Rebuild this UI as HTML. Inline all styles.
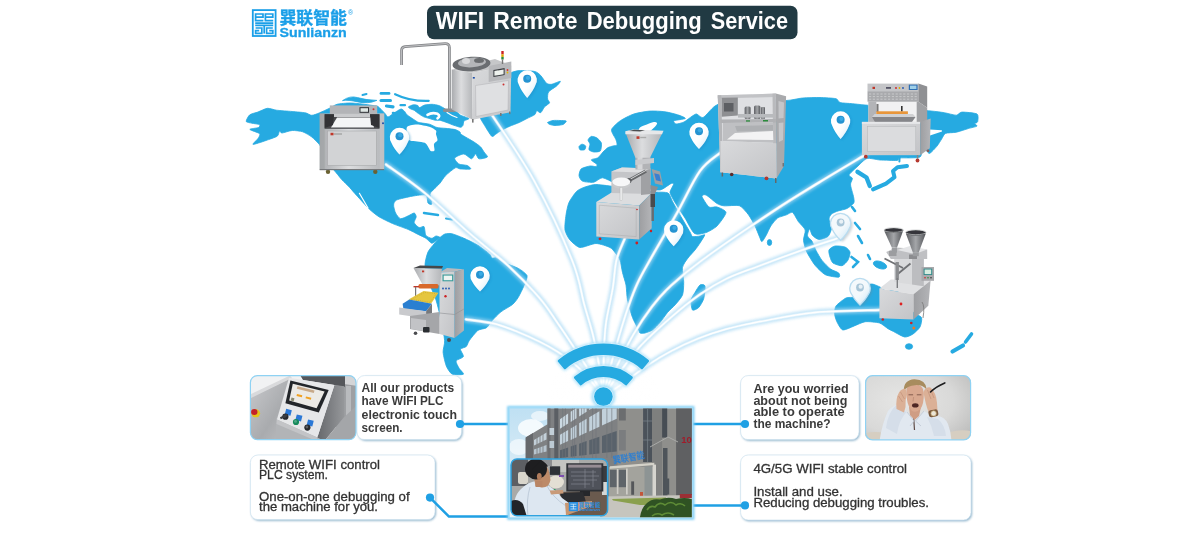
<!DOCTYPE html>
<html lang="en"><head><meta charset="utf-8"><title>WIFI Remote Debugging Service</title>
<style>html,body{margin:0;padding:0;background:#fff}body{width:1200px;height:536px;overflow:hidden}svg{display:block}</style></head><body>
<svg width="1200" height="536" viewBox="0 0 1200 536">
<defs>
<filter id="blur05" x="-5%" y="-5%" width="110%" height="110%"><feGaussianBlur stdDeviation="0.6"/></filter>
<filter id="blur12" x="-10%" y="-20%" width="120%" height="140%"><feGaussianBlur stdDeviation="1.3"/></filter>
<filter id="blur1" x="-20%" y="-20%" width="140%" height="140%"><feGaussianBlur stdDeviation="1"/></filter>
<filter id="blur2" x="-10%" y="-20%" width="120%" height="140%"><feGaussianBlur stdDeviation="1.8"/></filter>
<filter id="soft" x="-2%" y="-2%" width="104%" height="104%"><feGaussianBlur stdDeviation="0.45"/></filter>
<radialGradient id="gHubFade" cx="0.5" cy="0.5" r="0.5"><stop offset="0" stop-color="#ffffff" stop-opacity="0.75"/><stop offset="0.6" stop-color="#ffffff" stop-opacity="0.5"/><stop offset="1" stop-color="#ffffff" stop-opacity="0"/></radialGradient>
<linearGradient id="gPin" x1="0" x2="1" y1="0" y2="1"><stop offset="0.45" stop-color="#ffffff" stop-opacity="0"/><stop offset="1" stop-color="#7fc4ea"/></linearGradient>

<linearGradient id="gH" x1="0" x2="1" y1="0" y2="0"><stop offset="0" stop-color="#a9abae"/><stop offset="0.45" stop-color="#dcdddf"/><stop offset="1" stop-color="#b4b6b9"/></linearGradient>
<linearGradient id="gF" x1="0" x2="1" y1="0" y2="1"><stop offset="0" stop-color="#d9dadc"/><stop offset="1" stop-color="#c3c4c7"/></linearGradient>
<linearGradient id="gS" x1="0" x2="1" y1="0" y2="0"><stop offset="0" stop-color="#9d9ea1"/><stop offset="1" stop-color="#b4b5b8"/></linearGradient>
<linearGradient id="gD" x1="0" x2="1" y1="0" y2="0"><stop offset="0" stop-color="#5e6064"/><stop offset="0.5" stop-color="#a4a6a9"/><stop offset="1" stop-color="#55575b"/></linearGradient>

<clipPath id="cpT"><rect x="250.4" y="375.6" width="105.6" height="64" rx="7"/></clipPath>
<clipPath id="cpM"><rect x="865" y="375.6" width="106" height="64.4" rx="7"/></clipPath>
<clipPath id="cpC"><rect x="509.8" y="408.4" width="182" height="108.8"/></clipPath>
<clipPath id="cpI"><rect x="511" y="458.8" width="97" height="57" rx="6"/></clipPath>
<linearGradient id="gTouchCab" x1="0" x2="1" y1="0" y2="1"><stop offset="0" stop-color="#c9cacd"/><stop offset="0.6" stop-color="#a9abae"/><stop offset="1" stop-color="#bfc0c3"/></linearGradient>
<linearGradient id="gTouchSide" x1="0" x2="1" y1="0" y2="0"><stop offset="0" stop-color="#66686c"/><stop offset="1" stop-color="#96989b"/></linearGradient>
<linearGradient id="gTouchBg" x1="0" x2="1" y1="0" y2="1"><stop offset="0" stop-color="#e3e4e6"/><stop offset="0.5" stop-color="#b9bbbe"/><stop offset="1" stop-color="#d5d6d8"/></linearGradient>
<linearGradient id="gSky" x1="0" x2="0" y1="0" y2="1"><stop offset="0" stop-color="#bfe0f3"/><stop offset="1" stop-color="#eef5f8"/></linearGradient>
<radialGradient id="gManBg" cx="0.35" cy="0.4" r="0.8"><stop offset="0" stop-color="#e6e6e5"/><stop offset="0.6" stop-color="#d9d9d8"/><stop offset="1" stop-color="#bcbcbb"/></radialGradient>
</defs>
<rect width="1200" height="536" fill="#fff"/>
<g opacity="0.999">
<g filter="url(#soft)">
<g fill="#26aae1" stroke="#26aae1" stroke-width="0.8" stroke-linejoin="round">
<path d="M246.2,121.5 C245.9,120.5 248.4,115.9 249.8,114.8 C251.2,113.7 255.9,112.8 258.0,112.0 C260.1,111.2 265.2,108.5 267.4,108.3 C269.6,108.1 273.7,109.8 276.6,110.2 C279.5,110.6 288.9,111.2 292.2,111.5 C295.5,111.8 303.0,112.4 305.3,112.8 C307.6,113.2 310.1,115.3 311.8,115.3 C313.5,115.3 317.5,113.7 319.6,112.8 C321.7,111.9 328.0,109.0 330.0,108.0 C332.0,107.0 334.7,104.9 337.0,104.3 C339.3,103.7 347.1,103.0 350.0,103.0 C352.9,103.0 359.3,103.7 362.0,104.0 C364.7,104.3 371.1,105.2 373.0,105.5 C374.9,105.8 376.6,105.6 378.0,106.5 C379.4,107.4 383.8,112.3 385.0,113.5 C386.2,114.7 386.9,117.1 388.0,117.0 C389.1,116.9 392.5,113.9 394.0,113.0 C395.5,112.1 399.8,109.2 401.0,109.0 C402.2,108.8 403.8,110.6 404.5,111.3 C405.2,112.0 405.9,113.9 407.2,115.0 C408.5,116.1 414.1,119.7 415.5,120.6 C416.9,121.5 417.4,122.2 419.0,122.6 C420.6,123.0 427.4,123.6 429.5,124.2 C431.6,124.8 435.2,127.0 437.0,127.5 C438.8,128.0 442.9,128.1 445.0,128.3 C447.1,128.5 453.2,129.1 455.0,129.5 C456.8,129.9 459.3,131.4 460.0,132.0 C460.7,132.6 459.8,133.3 461.4,134.5 C463.0,135.7 471.7,140.5 474.0,142.0 C476.3,143.5 479.5,145.8 480.7,147.0 C481.9,148.2 483.2,150.8 484.0,152.0 C484.8,153.2 488.0,156.2 487.4,157.0 C486.8,157.8 480.4,159.2 479.0,158.8 C477.6,158.5 476.5,154.0 475.6,154.0 C474.7,154.0 472.9,158.8 471.5,158.8 C470.1,158.8 465.9,154.1 463.9,154.0 C461.9,153.9 455.3,156.8 454.7,158.0 C454.1,159.2 457.4,163.1 458.9,164.0 C460.4,164.9 465.8,164.9 467.2,165.5 C468.6,166.1 471.4,168.6 470.6,169.0 C469.8,169.4 462.3,169.1 460.5,169.0 C458.7,168.9 457.1,167.0 455.3,167.8 C453.6,168.6 447.3,173.9 445.5,175.7 C443.7,177.5 441.1,181.9 439.7,183.5 C438.3,185.1 434.9,188.2 433.8,189.4 C432.7,190.6 430.2,192.3 430.0,194.0 C429.8,195.7 432.0,202.9 431.8,204.0 C431.6,205.1 428.7,204.1 428.0,203.0 C427.3,201.9 427.7,195.8 425.9,195.0 C424.1,194.2 415.6,195.6 412.2,196.2 C408.8,196.8 398.8,199.0 396.6,200.0 C394.4,201.0 393.7,203.5 393.6,205.0 C393.5,206.5 394.8,211.4 395.6,213.0 C396.4,214.6 399.0,218.4 400.5,218.7 C402.0,219.0 406.7,216.5 408.3,215.8 C409.9,215.1 413.3,212.9 414.2,213.0 C415.1,213.1 416.2,215.7 416.2,216.8 C416.2,217.9 413.9,221.4 414.2,222.7 C414.5,224.0 418.0,227.1 419.1,227.6 C420.2,228.1 423.2,225.7 424.0,226.6 C424.8,227.5 425.0,234.0 425.9,235.4 C426.8,236.8 430.6,238.2 431.8,238.3 C433.0,238.4 435.0,236.1 436.0,236.0 C437.0,235.9 439.9,237.0 440.0,237.5 C440.1,238.0 437.7,239.6 436.7,240.3 C435.7,241.0 433.1,243.4 431.8,243.2 C430.5,243.0 427.5,239.3 425.9,238.3 C424.3,237.3 420.2,235.4 418.1,234.4 C416.0,233.4 411.3,230.8 408.3,229.5 C405.3,228.2 396.1,225.1 392.7,223.6 C389.3,222.1 381.7,218.5 379.0,216.8 C376.3,215.1 371.8,211.5 369.2,209.0 C366.6,206.5 358.7,197.7 356.4,195.2 C354.1,192.7 351.3,189.2 349.6,187.4 C347.9,185.6 343.1,181.1 341.7,179.6 C340.3,178.1 339.2,176.4 337.8,174.7 C336.4,173.0 331.7,167.6 330.0,165.0 C328.3,162.4 324.2,154.4 323.0,152.0 C321.8,149.6 320.9,146.6 319.6,144.8 C318.3,143.1 313.8,138.5 311.8,137.0 C309.8,135.5 305.0,132.6 302.7,131.8 C300.4,131.0 294.6,130.4 292.2,130.5 C289.8,130.6 283.5,132.9 282.0,133.0 C280.5,133.1 280.1,130.6 279.5,131.0 C278.9,131.4 278.8,135.1 277.2,136.2 C275.6,137.3 268.8,139.5 266.0,140.5 C263.2,141.5 253.9,144.6 253.0,144.4 C252.1,144.2 257.2,139.7 258.0,138.5 C258.8,137.3 260.6,134.8 259.6,133.7 C258.6,132.6 249.9,130.1 249.8,129.4 C249.7,128.7 257.4,128.1 258.5,127.5 C259.6,126.9 260.4,125.1 259.6,124.6 C258.8,124.1 253.6,123.6 252.0,123.2 C250.4,122.8 246.5,122.5 246.2,121.5Z"/>
<path d="M408.5,106.8 C408.9,106.3 412.5,104.9 413.6,104.7 C414.7,104.5 417.1,105.2 417.8,105.5 C418.5,105.8 418.7,107.6 419.5,107.6 C420.3,107.6 423.0,105.5 424.5,105.1 C426.0,104.7 430.3,104.3 432.0,104.3 C433.7,104.3 437.4,105.1 438.8,105.5 C440.2,105.9 442.8,107.5 443.8,108.0 C444.8,108.5 445.8,109.9 447.2,110.2 C448.6,110.5 454.0,110.4 455.6,111.0 C457.2,111.6 459.0,114.3 460.6,115.2 C462.2,116.1 468.6,117.8 469.0,118.5 C469.4,119.2 464.7,120.2 464.0,121.0 C463.3,121.8 463.4,124.6 463.0,125.3 C462.6,126.0 461.7,127.3 460.6,127.3 C459.5,127.3 455.5,125.8 453.9,125.3 C452.3,124.8 448.8,123.3 447.2,122.7 C445.6,122.1 441.9,120.7 440.5,120.4 C439.1,120.1 436.6,120.5 435.4,120.3 C434.2,120.1 431.8,119.2 430.4,118.8 C429.0,118.4 425.1,117.4 423.7,116.8 C422.3,116.2 419.6,114.3 418.5,113.6 C417.4,112.9 415.5,111.1 414.5,110.5 C413.5,109.9 410.7,109.0 410.0,108.6 C409.3,108.2 408.1,107.3 408.5,106.8Z"/>
<path d="M483.0,113.0 C482.5,115.0 479.9,115.7 480.0,117.0 C480.1,118.3 482.6,122.3 484.0,124.5 C485.4,126.7 490.3,135.1 491.7,136.2 C493.1,137.3 494.6,134.9 495.7,134.2 C496.8,133.5 499.9,131.2 501.5,130.3 C503.1,129.4 507.3,127.3 509.4,126.4 C511.5,125.5 517.1,123.4 519.2,122.5 C521.3,121.6 525.2,119.4 527.0,118.5 C528.8,117.6 533.7,115.5 534.8,114.6 C535.9,113.7 536.1,110.9 536.8,110.7 C537.5,110.5 539.8,113.2 540.7,112.7 C541.6,112.2 543.6,107.9 544.6,106.8 C545.6,105.7 549.1,103.8 549.5,102.9 C549.9,102.0 547.7,100.3 547.6,99.0 C547.5,97.7 547.5,93.5 548.5,92.0 C549.5,90.5 555.0,87.4 556.4,86.2 C557.8,85.0 560.9,81.5 560.3,81.3 C559.7,81.1 553.1,84.1 551.5,84.3 C549.9,84.5 547.9,84.3 546.6,83.3 C545.3,82.3 542.1,76.9 540.7,75.5 C539.3,74.1 537.3,72.1 534.8,71.5 C532.3,70.9 521.9,70.5 519.2,70.6 C516.5,70.7 513.5,71.9 511.3,72.5 C509.1,73.1 502.5,74.5 500.0,76.0 C497.5,77.5 491.9,82.2 490.0,85.0 C488.1,87.8 484.8,96.7 484.0,100.0 C483.2,103.3 483.5,111.0 483.0,113.0Z"/>
<path d="M547.6,122.5 C548.0,122.0 551.6,120.7 553.0,120.5 C554.4,120.3 558.5,120.4 560.0,120.5 C561.5,120.6 565.9,120.5 566.2,121.0 C566.6,121.5 564.3,124.0 563.0,124.5 C561.7,125.0 556.5,125.5 555.0,125.5 C553.5,125.5 550.9,124.8 550.0,124.5 C549.1,124.2 547.2,123.0 547.6,122.5Z"/>
<path d="M440.0,237.5 C441.3,236.3 443.6,234.4 445.0,234.0 C446.4,233.6 449.7,233.2 451.8,233.7 C453.9,234.2 460.4,236.7 463.4,238.0 C466.4,239.3 474.8,243.3 477.8,245.2 C480.8,247.1 487.7,252.4 489.4,253.9 C491.1,255.4 491.2,257.5 492.0,258.0 C492.8,258.5 494.6,257.5 496.0,258.0 C497.4,258.5 501.3,261.4 503.9,262.6 C506.5,263.8 515.6,266.9 518.3,268.4 C521.0,269.9 526.3,273.6 527.0,275.6 C527.7,277.6 525.0,283.2 524.0,285.7 C523.0,288.2 519.6,295.1 518.3,297.3 C517.0,299.5 514.5,302.8 512.5,304.5 C510.5,306.2 503.4,309.9 501.0,311.8 C498.6,313.7 494.0,318.5 492.3,320.4 C490.6,322.3 488.2,326.5 486.5,327.7 C484.8,328.9 479.8,329.0 477.8,330.5 C475.8,332.0 470.5,338.8 469.2,340.7 C467.9,342.6 467.3,345.5 466.3,346.5 C465.3,347.5 460.8,348.1 460.5,349.3 C460.2,350.5 463.9,355.2 463.4,356.6 C462.9,358.0 456.6,359.6 456.1,360.9 C455.6,362.2 458.1,366.5 459.0,368.1 C459.9,369.7 464.2,373.5 463.4,374.2 C462.6,374.9 454.0,375.0 452.0,374.0 C450.0,373.0 447.3,368.5 446.3,366.0 C445.3,363.5 443.3,355.2 443.1,352.2 C442.9,349.2 444.8,344.5 444.6,340.7 C444.4,336.9 442.0,324.7 441.0,320.0 C440.0,315.3 437.5,304.7 436.0,300.0 C434.5,295.3 429.3,284.1 428.0,280.0 C426.7,275.9 425.0,268.3 425.0,265.0 C425.0,261.7 426.9,254.4 428.0,252.0 C429.1,249.6 432.6,245.7 434.0,244.0 C435.4,242.3 438.7,238.7 440.0,237.5Z"/>
<path d="M576.8,191.2 C578.7,189.4 582.8,187.8 585.0,187.0 C587.2,186.2 592.9,184.6 595.8,184.5 C598.7,184.4 606.6,185.6 610.0,186.0 C613.4,186.4 621.5,187.5 625.0,188.0 C628.5,188.5 636.5,189.5 640.0,190.0 C643.5,190.5 651.7,191.7 655.0,192.0 C658.3,192.3 666.0,191.9 668.0,193.0 C670.0,194.1 671.0,198.7 672.4,201.3 C673.8,203.9 677.9,211.4 680.0,215.0 C682.1,218.6 688.5,229.5 690.0,232.0 C691.5,234.5 691.3,236.0 692.5,236.5 C693.7,237.0 698.6,236.2 700.0,236.0 C701.4,235.8 704.8,234.1 704.8,234.9 C704.8,235.7 701.1,241.2 700.0,243.0 C698.9,244.8 696.4,248.2 695.0,250.0 C693.6,251.8 689.5,256.0 688.0,258.0 C686.5,260.0 683.0,264.6 682.5,267.5 C682.0,270.4 683.7,279.3 683.7,282.5 C683.7,285.7 683.5,292.4 682.5,295.0 C681.5,297.6 676.8,303.0 675.0,305.0 C673.2,307.0 669.2,310.5 667.5,312.5 C665.8,314.5 661.8,320.5 660.0,322.5 C658.2,324.5 654.2,328.8 652.5,330.0 C650.8,331.2 646.5,332.6 645.0,333.0 C643.5,333.4 640.7,333.4 640.0,333.0 C639.3,332.6 639.6,331.8 638.7,330.0 C637.8,328.2 633.8,321.0 632.5,317.5 C631.2,314.0 628.3,303.8 627.5,300.0 C626.7,296.2 626.6,288.2 626.0,285.0 C625.4,281.8 623.2,275.4 622.5,272.5 C621.8,269.6 620.9,262.3 620.0,260.0 C619.1,257.7 616.2,254.0 615.0,252.5 C613.8,251.0 612.2,248.6 610.0,247.5 C607.8,246.4 599.5,243.5 596.0,243.5 C592.5,243.5 583.0,247.9 580.0,247.5 C577.0,247.1 571.8,242.0 570.0,240.0 C568.2,238.0 565.5,232.9 565.0,230.0 C564.5,227.1 565.5,218.2 566.0,215.0 C566.5,211.8 567.7,205.2 569.0,202.4 C570.3,199.6 574.9,193.0 576.8,191.2Z"/>
<path d="M700.0,285.0 C701.2,284.2 704.6,284.4 705.0,286.0 C705.4,287.6 704.4,296.2 703.7,298.7 C703.0,301.2 700.0,306.2 698.7,307.5 C697.4,308.8 693.4,310.9 692.5,310.0 C691.6,309.1 690.7,302.0 691.0,300.0 C691.3,298.0 694.0,294.2 695.0,292.5 C696.0,290.8 698.8,285.8 700.0,285.0Z"/>
<path d="M579.0,175.6 C578.9,174.2 580.0,169.9 581.3,168.8 C582.6,167.7 588.3,166.3 590.0,166.0 C591.7,165.7 595.0,166.8 595.8,166.6 C596.6,166.4 597.5,165.2 597.0,164.4 C596.5,163.6 591.2,160.7 591.3,159.9 C591.4,159.1 596.6,158.6 598.0,157.7 C599.4,156.8 601.8,153.2 603.0,152.0 C604.2,150.8 606.8,148.3 608.0,147.6 C609.2,146.9 612.0,146.3 613.0,146.0 C614.0,145.7 616.6,145.7 617.0,145.0 C617.4,144.3 616.6,141.6 616.0,139.8 C615.4,138.0 611.0,131.9 611.5,129.7 C612.0,127.5 617.8,122.5 620.4,120.7 C623.0,118.9 630.4,115.1 633.8,114.0 C637.2,112.9 645.8,111.4 649.5,111.1 C653.2,110.8 661.8,111.3 665.2,111.8 C668.6,112.3 676.3,114.3 678.6,115.1 C680.9,115.9 685.8,117.8 685.3,118.5 C684.8,119.2 675.1,120.1 674.0,120.7 C672.9,121.3 674.8,123.8 676.0,124.0 C677.2,124.2 682.1,122.9 684.0,122.0 C685.9,121.1 690.5,117.2 692.0,116.3 C693.5,115.4 695.2,113.9 696.5,114.0 C697.8,114.1 701.0,118.3 703.2,117.4 C705.4,116.5 711.9,108.0 715.0,106.0 C718.1,104.0 724.8,100.9 730.0,100.0 C735.2,99.1 753.5,97.9 760.0,98.0 C766.5,98.1 781.0,100.5 786.0,100.5 C791.0,100.5 798.5,98.3 802.5,98.0 C806.5,97.7 816.1,97.4 820.0,97.5 C823.9,97.6 833.7,98.1 836.0,98.7 C838.3,99.3 838.1,101.9 840.0,102.5 C841.9,103.1 849.6,103.4 852.5,103.7 C855.4,104.0 859.5,104.5 865.0,105.0 C870.5,105.5 892.3,107.3 900.0,108.0 C907.7,108.7 925.8,110.5 931.0,111.0 C936.2,111.5 941.3,112.2 944.3,112.7 C947.3,113.2 954.3,115.3 956.4,115.2 C958.5,115.1 959.5,112.2 961.9,112.1 C964.3,112.0 975.2,112.9 977.0,114.0 C978.8,115.1 977.9,120.7 977.6,121.8 C977.3,122.9 974.7,123.2 974.6,123.7 C974.5,124.2 977.7,125.5 977.0,126.1 C976.3,126.7 970.9,127.8 968.5,128.5 C966.1,129.2 959.1,131.6 956.4,132.2 C953.7,132.8 947.2,132.6 945.5,133.4 C943.8,134.2 942.8,137.3 941.8,138.8 C940.8,140.3 938.4,144.4 937.0,146.1 C935.6,147.8 931.0,152.9 929.7,153.4 C928.4,153.9 926.9,150.9 926.0,150.0 C925.1,149.1 922.7,145.2 922.0,146.0 C921.3,146.8 922.6,155.6 920.0,157.0 C917.4,158.4 902.7,157.6 900.0,158.0 C897.3,158.4 899.3,160.2 897.0,160.4 C894.7,160.6 883.5,160.2 880.0,160.0 C876.5,159.8 869.6,157.7 866.9,158.5 C864.2,159.3 859.0,165.2 856.9,167.1 C854.8,169.0 849.5,173.7 849.0,175.0 C848.5,176.3 852.2,177.2 852.4,178.3 C852.6,179.4 850.6,182.8 850.5,184.0 C850.4,185.2 850.9,186.9 851.3,188.4 C851.6,189.9 853.2,194.8 853.5,196.5 C853.8,198.2 854.6,201.6 853.8,203.0 C853.0,204.4 848.8,207.6 847.0,208.5 C845.2,209.4 839.8,210.4 838.0,211.0 C836.2,211.6 832.5,213.1 831.5,214.0 C830.5,214.9 829.0,217.4 829.0,219.0 C829.0,220.6 831.6,226.0 831.5,228.0 C831.4,230.0 829.5,235.2 828.0,236.5 C826.5,237.8 820.8,239.6 819.0,239.5 C817.2,239.4 813.6,236.7 812.5,235.5 C811.4,234.3 810.1,228.9 809.5,229.0 C808.9,229.1 807.2,234.6 807.5,236.0 C807.8,237.4 810.9,239.3 811.9,241.0 C812.9,242.7 814.8,248.1 816.0,250.4 C817.2,252.7 820.3,258.3 822.0,260.4 C823.7,262.5 828.4,267.3 830.3,268.8 C832.2,270.3 837.7,272.0 838.7,273.0 C839.7,274.0 840.3,277.0 838.7,277.2 C837.1,277.4 828.0,276.1 825.3,274.7 C822.6,273.3 817.4,268.1 815.2,265.5 C813.0,262.9 808.2,254.9 806.8,252.0 C805.4,249.1 803.7,242.9 803.5,240.3 C803.3,237.7 805.8,232.2 805.2,230.0 C804.6,227.8 800.0,223.8 798.5,221.8 C797.0,219.8 794.0,213.3 792.6,212.5 C791.2,211.7 788.3,214.1 786.5,214.8 C784.7,215.5 779.3,216.8 777.5,218.1 C775.7,219.4 772.1,224.0 770.8,226.0 C769.5,228.0 767.4,233.1 766.4,234.9 C765.4,236.7 762.7,241.4 761.9,241.6 C761.1,241.8 760.4,238.8 759.6,237.0 C758.8,235.2 756.3,228.6 755.0,226.0 C753.7,223.4 750.3,217.2 748.5,214.8 C746.7,212.4 742.4,206.9 739.5,205.8 C736.6,204.8 726.6,206.1 724.0,205.8 C721.4,205.5 719.1,204.8 717.0,203.5 C714.9,202.2 707.8,195.8 706.0,195.0 C704.2,194.2 701.6,195.1 702.0,196.5 C702.4,197.9 707.2,205.8 709.0,207.0 C710.8,208.2 715.0,206.4 717.0,207.0 C719.0,207.6 726.0,210.3 726.0,212.5 C726.0,214.7 719.3,223.7 717.0,226.0 C714.7,228.3 708.6,231.7 706.0,232.6 C703.4,233.5 697.0,235.2 694.5,233.5 C692.0,231.8 687.3,221.6 685.0,218.0 C682.7,214.4 676.5,204.9 675.0,202.5 C673.5,200.1 672.6,198.2 672.0,197.0 C671.4,195.8 669.8,193.5 670.0,192.0 C670.2,190.5 673.3,185.5 673.5,184.5 C673.7,183.5 672.9,182.8 671.3,183.4 C669.7,184.0 663.1,189.5 660.0,190.0 C656.9,190.5 648.5,188.5 645.0,188.0 C641.5,187.5 633.5,186.6 630.0,186.0 C626.5,185.4 618.2,184.0 615.0,183.0 C611.8,182.0 605.0,177.9 602.5,177.8 C600.0,177.7 595.9,181.9 593.6,182.3 C591.3,182.7 584.1,181.9 582.4,181.1 C580.7,180.3 579.1,177.0 579.0,175.6Z"/>
<path d="M591.3,136.4 C592.3,136.2 595.8,137.2 597.0,138.0 C598.2,138.8 601.0,141.6 601.4,143.1 C601.8,144.6 601.2,149.9 600.3,150.9 C599.4,151.9 595.3,152.1 594.0,152.0 C592.7,151.9 589.5,150.7 589.0,149.8 C588.5,148.9 590.1,145.1 590.0,144.0 C589.9,142.9 587.8,140.9 588.0,140.0 C588.2,139.1 590.2,136.6 591.3,136.4Z"/>
<path d="M579.0,146.5 C579.2,145.8 581.2,144.3 582.0,144.2 C582.8,144.1 585.4,145.3 585.7,146.0 C586.0,146.7 585.2,149.4 584.5,149.8 C583.8,150.2 580.6,150.2 580.0,149.8 C579.4,149.4 578.8,147.2 579.0,146.5Z"/>
<path d="M829.0,250.0 C829.6,248.7 833.1,246.3 835.0,246.0 C836.9,245.7 843.2,246.3 845.0,247.0 C846.8,247.7 849.6,250.5 850.0,252.0 C850.4,253.5 848.9,258.4 848.0,260.0 C847.1,261.6 843.8,265.3 842.0,265.7 C840.2,266.1 834.4,264.0 833.0,263.0 C831.6,262.0 830.5,258.5 830.0,257.0 C829.5,255.5 828.4,251.3 829.0,250.0Z"/>
<path d="M836.0,306.0 C837.3,304.1 843.8,299.1 846.0,298.0 C848.2,296.9 853.1,297.9 855.0,297.0 C856.9,296.1 860.1,291.5 862.0,290.0 C863.9,288.5 868.9,284.4 871.0,284.0 C873.1,283.6 878.0,286.1 880.0,287.0 C882.0,287.9 886.2,292.1 888.0,292.0 C889.8,291.9 893.6,285.6 895.0,286.0 C896.4,286.4 897.9,292.0 900.0,295.0 C902.1,298.0 910.5,309.4 913.0,312.0 C915.5,314.6 920.7,315.8 921.5,317.5 C922.3,319.2 921.0,325.1 920.0,327.0 C919.0,328.9 914.8,332.8 913.0,334.0 C911.2,335.2 907.0,337.3 904.7,337.0 C902.4,336.7 895.4,332.5 893.5,331.5 C891.6,330.5 889.6,329.7 888.0,328.7 C886.4,327.7 882.1,323.8 879.5,323.0 C876.9,322.2 868.4,321.4 865.5,321.7 C862.6,322.0 856.9,324.9 854.3,325.9 C851.7,326.9 845.0,330.3 843.0,330.0 C841.0,329.7 838.5,324.8 837.5,323.0 C836.5,321.2 834.9,316.7 834.7,314.7 C834.5,312.7 834.7,307.9 836.0,306.0Z"/>
<path d="M342.5,100.6 Q350,95.3 357.5,97.6 T376.9,100.4 Q368,104.2 358,101.9 T342.5,100.6Z"/>
<ellipse cx="769.5" cy="242.5" rx="2.2" ry="3"/>
<ellipse cx="880" cy="265" rx="7" ry="3.5" transform="rotate(20 880 265)"/>
<ellipse cx="909" cy="346.5" rx="3.6" ry="2.8"/>
</g>
<g fill="none" stroke="#26aae1" stroke-linecap="round">
<path d="M873,189.3 L886,183.7 L894.5,177.2 L893,171 L897.5,167.3 L907,166" stroke-width="4" stroke-linejoin="round"/>
<path d="M857.5,171.8 L866.5,177.5 L869.8,186" stroke-width="4.4" stroke-linejoin="round"/>
<path d="M899.6,156 L899.4,161.5" stroke-width="2"/>
<path d="M852,207 L855,211 M855,223 L860,229 M858,236 L862,243 M851.5,257 L858,262 L853,267 M868,255 L870,259" stroke-width="2.6"/>
<path d="M971.5,334 L965.5,342" stroke-width="3.6"/>
<path d="M963,345.5 L952.5,351.5" stroke-width="4.2"/>
<path d="M395.1,94.2 Q410,101.5 428.7,100.9" stroke-width="2.2"/>
<path d="M381,93.4 L389,93.4" stroke-width="2.8"/>
<path d="M381,100.5 L390.5,100.5" stroke-width="3"/>
<path d="M386.5,106 L393,106.8" stroke-width="3.2"/>
<path d="M400.5,105.2 L405,105.2" stroke-width="2.2"/>
<path d="M393,113 L396.5,113.5" stroke-width="2.6"/>
<path d="M362.5,95 L366.5,94" stroke-width="2"/>
<path d="M424,213 L438,215" stroke-width="2.5"/>
<path d="M446,218.5 L452,219.5" stroke-width="2"/>
</g>
<g fill="#fff">
<path d="M406.9,127.3 C407.6,125.8 410.6,125.4 412.0,125.0 C413.4,124.6 415.0,124.4 417.3,124.6 C419.6,124.8 426.8,126.0 429.3,126.8 C431.8,127.6 435.1,129.6 436.0,130.6 C436.9,131.6 435.8,133.0 436.0,134.3 C436.2,135.6 437.8,139.0 437.5,140.3 C437.2,141.6 434.4,142.6 434.0,144.0 C433.6,145.4 434.9,149.6 434.5,150.5 C434.1,151.4 431.6,151.6 430.7,151.0 C429.8,150.4 428.6,147.3 427.8,146.2 C427.0,145.1 426.2,143.4 424.8,142.8 C423.4,142.2 419.3,141.8 417.3,141.5 C415.3,141.2 411.3,141.2 409.9,140.5 C408.5,139.8 407.4,137.8 407.0,136.0 C406.6,134.2 406.2,128.8 406.9,127.3Z"/>
<path d="M640.0,127.5 C641.9,126.0 651.7,122.5 654.0,122.0 C656.3,121.5 657.5,122.8 657.0,124.0 C656.5,125.2 652.3,129.8 650.0,131.0 C647.7,132.2 641.3,133.5 640.0,133.0 C638.7,132.5 638.1,129.0 640.0,127.5Z"/>
<path d="M930,129.5 L941.8,130.3 L942,131.4 L930,135.4Z"/>
</g>
<g fill="none" stroke="#fff" stroke-linecap="round">
<path d="M359.4,193.3 L368,208" stroke-width="1.2"/>
<path d="M427.5,114.8 Q432,112 437.5,113.8 Q441,116 437.5,118.3" stroke-width="2.6"/>
<path d="M447,112.5 Q452,116 457,117.5" stroke-width="1.1"/>
</g>
</g>
<g fill="none" stroke-linecap="round">
<g stroke="#a6d8f4" stroke-width="6" opacity="0.7" filter="url(#blur2)"><path d="M466.0,319.3 C470.8,320.1 486.3,321.8 494.8,323.8 C503.3,325.9 509.7,328.6 517.1,331.6 C524.6,334.6 532.8,338.4 539.5,341.7 C546.2,345.0 551.5,347.9 557.4,351.7 C563.3,355.5 569.4,359.6 575.0,364.5 C580.6,369.4 586.3,375.6 591.0,381.0 C595.7,386.4 601.3,394.0 603.4,396.6"/><path d="M386.0,164.5 C392.5,169.2 410.9,181.5 424.8,193.0 C438.7,204.5 455.6,221.2 469.5,233.3 C483.4,245.4 496.3,254.7 508.0,265.5 C519.7,276.3 531.3,288.5 539.5,298.0 C547.7,307.5 551.4,314.1 557.4,322.7 C563.4,331.3 569.7,340.9 575.3,349.5 C580.9,358.1 586.3,366.1 591.0,374.0 C595.7,381.9 601.3,392.8 603.4,396.6"/><path d="M490.0,112.0 C497.3,123.3 520.0,155.3 533.7,180.0 C547.4,204.7 563.6,239.2 572.0,260.0 C580.4,280.8 580.8,292.0 584.3,304.7 C587.8,317.4 590.7,325.4 593.2,336.0 C595.7,346.6 597.8,357.9 599.5,368.0 C601.2,378.1 602.8,391.8 603.4,396.6"/><path d="M625.0,238.0 C623.6,241.7 618.5,251.7 616.5,260.0 C614.5,268.3 614.5,277.7 612.8,288.0 C611.1,298.3 607.6,312.1 606.2,321.6 C604.8,331.1 604.7,336.6 604.2,345.0 C603.8,353.4 603.6,363.4 603.5,372.0 C603.4,380.6 603.4,392.5 603.4,396.6"/><path d="M720.0,153.0 C716.7,156.0 707.2,161.0 700.0,171.0 C692.8,181.0 685.3,198.2 677.0,213.0 C668.7,227.8 656.7,248.1 650.0,260.0 C643.3,271.9 640.7,276.2 637.0,284.3 C633.3,292.4 630.8,299.5 627.7,308.5 C624.6,317.5 621.6,327.5 618.4,338.4 C615.2,349.3 611.0,364.3 608.5,374.0 C606.0,383.7 604.2,392.8 603.4,396.6"/><path d="M865.0,155.0 C857.3,159.6 834.1,173.2 819.0,182.5 C803.9,191.8 793.8,197.6 774.3,210.5 C754.8,223.4 719.6,247.4 702.3,260.0 C685.0,272.6 679.0,278.2 670.6,286.0 C662.2,293.8 658.2,298.5 652.0,306.6 C645.8,314.7 639.5,324.0 633.3,334.6 C627.1,345.2 620.0,359.7 615.0,370.0 C610.0,380.3 605.3,392.2 603.4,396.6"/><path d="M840.0,237.5 C833.8,239.6 815.8,245.3 802.5,250.0 C789.2,254.7 772.6,260.8 760.0,265.6 C747.4,270.4 736.8,273.7 726.6,278.7 C716.4,283.7 707.9,288.9 698.6,295.4 C689.3,301.9 680.2,309.4 670.6,317.8 C661.0,326.2 649.1,336.8 640.7,345.8 C632.3,354.8 626.2,363.5 620.0,372.0 C613.8,380.5 606.2,392.5 603.4,396.6"/><path d="M880.0,310.0 C869.2,310.4 835.0,310.6 815.0,312.5 C795.0,314.4 774.7,318.9 760.0,321.6 C745.3,324.4 736.8,326.2 726.6,329.0 C716.4,331.8 707.9,334.7 698.6,338.4 C689.3,342.1 679.0,347.0 670.6,351.4 C662.2,355.8 655.6,359.9 648.0,365.0 C640.4,370.1 632.4,376.7 625.0,382.0 C617.6,387.3 607.0,394.2 603.4,396.6"/></g>
<g stroke="#e6f5fd" stroke-width="2.8" opacity="0.8" filter="url(#blur05)"><path d="M466.0,319.3 C470.8,320.1 486.3,321.8 494.8,323.8 C503.3,325.9 509.7,328.6 517.1,331.6 C524.6,334.6 532.8,338.4 539.5,341.7 C546.2,345.0 551.5,347.9 557.4,351.7 C563.3,355.5 569.4,359.6 575.0,364.5 C580.6,369.4 586.3,375.6 591.0,381.0 C595.7,386.4 601.3,394.0 603.4,396.6"/><path d="M386.0,164.5 C392.5,169.2 410.9,181.5 424.8,193.0 C438.7,204.5 455.6,221.2 469.5,233.3 C483.4,245.4 496.3,254.7 508.0,265.5 C519.7,276.3 531.3,288.5 539.5,298.0 C547.7,307.5 551.4,314.1 557.4,322.7 C563.4,331.3 569.7,340.9 575.3,349.5 C580.9,358.1 586.3,366.1 591.0,374.0 C595.7,381.9 601.3,392.8 603.4,396.6"/><path d="M490.0,112.0 C497.3,123.3 520.0,155.3 533.7,180.0 C547.4,204.7 563.6,239.2 572.0,260.0 C580.4,280.8 580.8,292.0 584.3,304.7 C587.8,317.4 590.7,325.4 593.2,336.0 C595.7,346.6 597.8,357.9 599.5,368.0 C601.2,378.1 602.8,391.8 603.4,396.6"/><path d="M625.0,238.0 C623.6,241.7 618.5,251.7 616.5,260.0 C614.5,268.3 614.5,277.7 612.8,288.0 C611.1,298.3 607.6,312.1 606.2,321.6 C604.8,331.1 604.7,336.6 604.2,345.0 C603.8,353.4 603.6,363.4 603.5,372.0 C603.4,380.6 603.4,392.5 603.4,396.6"/><path d="M720.0,153.0 C716.7,156.0 707.2,161.0 700.0,171.0 C692.8,181.0 685.3,198.2 677.0,213.0 C668.7,227.8 656.7,248.1 650.0,260.0 C643.3,271.9 640.7,276.2 637.0,284.3 C633.3,292.4 630.8,299.5 627.7,308.5 C624.6,317.5 621.6,327.5 618.4,338.4 C615.2,349.3 611.0,364.3 608.5,374.0 C606.0,383.7 604.2,392.8 603.4,396.6"/><path d="M865.0,155.0 C857.3,159.6 834.1,173.2 819.0,182.5 C803.9,191.8 793.8,197.6 774.3,210.5 C754.8,223.4 719.6,247.4 702.3,260.0 C685.0,272.6 679.0,278.2 670.6,286.0 C662.2,293.8 658.2,298.5 652.0,306.6 C645.8,314.7 639.5,324.0 633.3,334.6 C627.1,345.2 620.0,359.7 615.0,370.0 C610.0,380.3 605.3,392.2 603.4,396.6"/><path d="M840.0,237.5 C833.8,239.6 815.8,245.3 802.5,250.0 C789.2,254.7 772.6,260.8 760.0,265.6 C747.4,270.4 736.8,273.7 726.6,278.7 C716.4,283.7 707.9,288.9 698.6,295.4 C689.3,301.9 680.2,309.4 670.6,317.8 C661.0,326.2 649.1,336.8 640.7,345.8 C632.3,354.8 626.2,363.5 620.0,372.0 C613.8,380.5 606.2,392.5 603.4,396.6"/><path d="M880.0,310.0 C869.2,310.4 835.0,310.6 815.0,312.5 C795.0,314.4 774.7,318.9 760.0,321.6 C745.3,324.4 736.8,326.2 726.6,329.0 C716.4,331.8 707.9,334.7 698.6,338.4 C689.3,342.1 679.0,347.0 670.6,351.4 C662.2,355.8 655.6,359.9 648.0,365.0 C640.4,370.1 632.4,376.7 625.0,382.0 C617.6,387.3 607.0,394.2 603.4,396.6"/></g>
<g stroke="#ffffff" stroke-width="1.5"><path d="M466.0,319.3 C470.8,320.1 486.3,321.8 494.8,323.8 C503.3,325.9 509.7,328.6 517.1,331.6 C524.6,334.6 532.8,338.4 539.5,341.7 C546.2,345.0 551.5,347.9 557.4,351.7 C563.3,355.5 569.4,359.6 575.0,364.5 C580.6,369.4 586.3,375.6 591.0,381.0 C595.7,386.4 601.3,394.0 603.4,396.6"/><path d="M386.0,164.5 C392.5,169.2 410.9,181.5 424.8,193.0 C438.7,204.5 455.6,221.2 469.5,233.3 C483.4,245.4 496.3,254.7 508.0,265.5 C519.7,276.3 531.3,288.5 539.5,298.0 C547.7,307.5 551.4,314.1 557.4,322.7 C563.4,331.3 569.7,340.9 575.3,349.5 C580.9,358.1 586.3,366.1 591.0,374.0 C595.7,381.9 601.3,392.8 603.4,396.6"/><path d="M490.0,112.0 C497.3,123.3 520.0,155.3 533.7,180.0 C547.4,204.7 563.6,239.2 572.0,260.0 C580.4,280.8 580.8,292.0 584.3,304.7 C587.8,317.4 590.7,325.4 593.2,336.0 C595.7,346.6 597.8,357.9 599.5,368.0 C601.2,378.1 602.8,391.8 603.4,396.6"/><path d="M625.0,238.0 C623.6,241.7 618.5,251.7 616.5,260.0 C614.5,268.3 614.5,277.7 612.8,288.0 C611.1,298.3 607.6,312.1 606.2,321.6 C604.8,331.1 604.7,336.6 604.2,345.0 C603.8,353.4 603.6,363.4 603.5,372.0 C603.4,380.6 603.4,392.5 603.4,396.6"/><path d="M720.0,153.0 C716.7,156.0 707.2,161.0 700.0,171.0 C692.8,181.0 685.3,198.2 677.0,213.0 C668.7,227.8 656.7,248.1 650.0,260.0 C643.3,271.9 640.7,276.2 637.0,284.3 C633.3,292.4 630.8,299.5 627.7,308.5 C624.6,317.5 621.6,327.5 618.4,338.4 C615.2,349.3 611.0,364.3 608.5,374.0 C606.0,383.7 604.2,392.8 603.4,396.6"/><path d="M865.0,155.0 C857.3,159.6 834.1,173.2 819.0,182.5 C803.9,191.8 793.8,197.6 774.3,210.5 C754.8,223.4 719.6,247.4 702.3,260.0 C685.0,272.6 679.0,278.2 670.6,286.0 C662.2,293.8 658.2,298.5 652.0,306.6 C645.8,314.7 639.5,324.0 633.3,334.6 C627.1,345.2 620.0,359.7 615.0,370.0 C610.0,380.3 605.3,392.2 603.4,396.6"/><path d="M840.0,237.5 C833.8,239.6 815.8,245.3 802.5,250.0 C789.2,254.7 772.6,260.8 760.0,265.6 C747.4,270.4 736.8,273.7 726.6,278.7 C716.4,283.7 707.9,288.9 698.6,295.4 C689.3,301.9 680.2,309.4 670.6,317.8 C661.0,326.2 649.1,336.8 640.7,345.8 C632.3,354.8 626.2,363.5 620.0,372.0 C613.8,380.5 606.2,392.5 603.4,396.6"/><path d="M880.0,310.0 C869.2,310.4 835.0,310.6 815.0,312.5 C795.0,314.4 774.7,318.9 760.0,321.6 C745.3,324.4 736.8,326.2 726.6,329.0 C716.4,331.8 707.9,334.7 698.6,338.4 C689.3,342.1 679.0,347.0 670.6,351.4 C662.2,355.8 655.6,359.9 648.0,365.0 C640.4,370.1 632.4,376.7 625.0,382.0 C617.6,387.3 607.0,394.2 603.4,396.6"/></g>
</g>
<g filter="url(#soft)">
<g id="mach">
<rect x="319.7" y="113.5" width="64.5" height="56.2" fill="url(#gH)"/>
<rect x="329.8" y="105.4" width="47.4" height="8.6" fill="#b3b4b7"/>
<rect x="359.5" y="107.2" width="9.5" height="5.6" fill="#2e3236"/><rect x="360.5" y="108.2" width="7.5" height="3.6" fill="#dfe7e4"/>
<circle cx="373.5" cy="109.3" r="1" fill="#c33"/>
<rect x="324.3" y="114.3" width="55.4" height="14.5" fill="#48494c"/>
<polygon points="337.0,117.5 371.0,117.5 374.0,127.5 331.0,127.5" fill="#f4f5f6"/>
<polygon points="324.3,114.3 334.0,114.3 333.0,125.0 324.3,128.0" fill="#303134"/>
<polygon points="379.7,114.3 370.0,114.3 371.0,125.0 379.7,128.0" fill="#303134"/>
<rect x="334" y="113.8" width="36" height="3.2" fill="#c9cacc"/>
<rect x="327.6" y="131" width="48.7" height="34.5" fill="#d2d3d5" stroke="#a7a8ab" stroke-width="0.6"/>
<rect x="330.5" y="132.8" width="3" height="2.5" fill="#c0392b"/><rect x="334" y="133.2" width="8" height="1.6" fill="#aaa"/>
<rect x="319.7" y="113.5" width="5" height="56.2" fill="#9fa1a4" opacity="0.6"/>
<rect x="379.6" y="113.5" width="4.6" height="56.2" fill="#c4c5c8" opacity="0.7"/>
<circle cx="383" cy="123.2" r="1" fill="#1f4fa8"/>
<circle cx="328" cy="171.8" r="2.2" fill="#6b6233"/><circle cx="375.3" cy="171.8" r="2.2" fill="#6b6233"/>
<rect x="319.7" y="169" width="64.5" height="1.2" fill="#77797c"/>
<path d="M401.6,65 V50 Q401.6,47 405,46.6 L445,43.6 Q449.4,43.4 449.4,47.5 V110" fill="none" stroke="#85878a" stroke-width="2.8"/>
<path d="M401.6,65 V50 Q401.6,47 405,46.6 L445,43.6 Q449.4,43.4 449.4,47.5 V110" fill="none" stroke="#d0d1d3" stroke-width="0.8"/>
<rect x="443" y="108.5" width="13" height="3.5" rx="1.5" fill="#8c8e91"/>
<polygon points="451.7,69.4 472.0,72.7 472.7,119.7 451.7,109.6" fill="url(#gH)"/>
<polygon points="472.0,72.7 511.3,65.5 510.5,112.2 472.7,119.7" fill="url(#gF)"/>
<polygon points="475.5,85.5 508.5,80.5 508.0,110.0 476.0,116.5" fill="#dfe0e2" stroke="#b0b1b4" stroke-width="0.5"/>
<polygon points="451.7,69.4 472.0,72.7 511.3,65.5 495.0,59.0" fill="#c6c7c9"/>
<ellipse cx="471.5" cy="64" rx="19" ry="7.2" fill="#6a6d71" transform="rotate(-4 471.5 64)"/>
<ellipse cx="472" cy="62.5" rx="14" ry="4.8" fill="#b4b6b9" transform="rotate(-4 472 62.5)"/>
<ellipse cx="466" cy="61" rx="4" ry="3" fill="#d8d9db"/><ellipse cx="479" cy="60.5" rx="5" ry="2.5" fill="#6b6d70"/>
<polygon points="488.7,66.0 511.3,61.5 511.3,78.0 488.7,82.0" fill="#b7b8bb"/>
<polygon points="493.4,70.0 504.6,68.0 504.6,75.0 493.4,77.0" fill="#3a3d41"/>
<polygon points="494.4,71.0 503.6,69.4 503.6,74.2 494.4,75.8" fill="#eef2ee"/>
<circle cx="507.5" cy="70" r="0.9" fill="#d33"/><circle cx="507.5" cy="72.5" r="0.9" fill="#e6b800"/>
<rect x="501.3" y="51" width="2.4" height="3.3" fill="#c22"/><rect x="501.3" y="54.3" width="2.4" height="2.6" fill="#e0a800"/><rect x="501.3" y="56.9" width="2.4" height="2.6" fill="#2a8a3a"/><rect x="501.8" y="59.5" width="1.4" height="4.5" fill="#777"/>
<circle cx="503.5" cy="84.6" r="1" fill="#c33"/>
<rect x="472.8" y="77" width="2" height="1.6" fill="#1f4fa8"/>
<rect x="472" y="119" width="1.6" height="3.6" fill="#777"/><rect x="500" y="113" width="1.6" height="3" fill="#777"/><rect x="509" y="111.5" width="1.4" height="2.6" fill="#777"/>
<polygon points="439.5,272.6 447.0,268.0 463.9,269.3 454.6,271.8" fill="#b9babd"/>
<polygon points="439.5,272.6 454.6,271.8 454.6,338.1 439.5,334.0" fill="url(#gF)"/>
<polygon points="454.6,271.8 463.9,269.3 463.9,330.6 454.6,338.1" fill="url(#gS)"/>
<rect x="442.5" y="274.5" width="10.8" height="6.8" fill="#3b9c9a"/><rect x="443.7" y="275.6" width="8.4" height="4.6" fill="#eef4f2"/>
<circle cx="443" cy="288.5" r="0.9" fill="#1f55b0"/><circle cx="446" cy="288.5" r="0.9" fill="#1f55b0"/><circle cx="449" cy="288.5" r="0.9" fill="#1f55b0"/>
<circle cx="445.5" cy="296.2" r="1.2" fill="#c22"/>
<path d="M439.5,313 L454.6,314.5 L463.9,309" fill="none" stroke="#8f9093" stroke-width="0.6"/>
<polygon points="413.5,268.0 442.0,268.5 440.0,285.5 423.0,285.5" fill="url(#gH)"/>
<polygon points="413.5,268.0 420.0,265.5 443.0,266.0 442.0,268.5" fill="#45474a"/>
<rect x="422" y="270.5" width="2.2" height="1.8" fill="#c0392b"/>
<rect x="418.5" y="284" width="20" height="4.5" rx="1.5" fill="#d8682c"/>
<rect x="413.5" y="286" width="5.5" height="1.4" fill="#c0392b"/><rect x="415" y="287" width="1.2" height="10" fill="#777"/>
<polygon points="408.5,299.5 423.6,291.1 438.5,292.8 431.0,303.7" fill="#e5c63f"/>
<polygon points="411.5,299.3 424.4,292.4 436.3,293.7 430.0,302.3" fill="none" stroke="#b8952a" stroke-width="0.5" stroke-dasharray="1,1.2"/>
<polygon points="402.6,303.7 409.3,299.5 432.0,303.7 426.1,311.2 403.4,308.7" fill="#2b7fd1"/>
<polygon points="399.2,307.5 426.1,311.2 426.1,318.5 399.2,314.5" fill="#c9cacd"/>
<polygon points="426.1,311.2 432.0,303.7 432.0,313.0 426.1,318.5" fill="#77797c"/>
<polygon points="410.0,316.0 439.5,312.0 439.5,334.0 410.0,329.0" fill="#a5a6a9"/>
<polygon points="411.0,318.0 426.0,320.0 426.0,331.5 411.0,329.0" fill="#c2c3c6"/>
<rect x="423" y="327" width="6.5" height="5.5" rx="1" fill="#2c2d30"/>
<circle cx="415.5" cy="333.3" r="1.8" fill="#4b4c50"/><circle cx="449" cy="340" r="2" fill="#4b4c50"/>
<polygon points="596.3,201.9 612.7,191.8 651.7,193.0 639.2,205.6" fill="#dcdddf"/>
<polygon points="596.3,201.9 639.2,205.6 639.2,239.6 596.3,236.5" fill="url(#gF)"/>
<polygon points="599.3,205.2 636.2,208.2 636.2,236.6 599.3,233.8" fill="none" stroke="#a9aaad" stroke-width="0.5"/>
<polygon points="639.2,205.6 651.7,193.0 651.7,228.3 639.2,239.6" fill="url(#gS)"/>
<polygon points="611.4,171.5 622.0,167.5 650.5,168.5 650.5,194.0 611.4,193.0" fill="#c4c5c8"/>
<polygon points="611.4,171.5 622.0,167.5 650.5,168.5 641.0,172.5" fill="#dedfe1"/>
<polygon points="641.0,172.5 650.5,168.5 650.5,194.0 641.0,195.0" fill="#a0a1a4"/>
<rect x="635.4" y="157" width="15" height="12.5" fill="#b2b3b6"/><rect x="637.5" y="157" width="5" height="12.5" fill="#d5d6d8"/>
<polygon points="635.4,160.0 654.0,158.0 654.0,163.0 635.4,165.0" fill="#c9cacd"/>
<polygon points="626.0,133.9 661.8,133.9 650.0,157.8 635.4,157.8" fill="url(#gH)"/>
<polygon points="625.3,131.3 633.0,129.5 663.5,130.8 662.0,134.2 625.3,134.2" fill="#e6e7e9"/>
<polygon points="629.0,131.0 634.0,129.8 645.0,130.2 640.0,131.5" fill="#4b4d50"/>
<rect x="636.5" y="136.3" width="3" height="2.6" fill="#c0392b"/><rect x="640.2" y="136.8" width="6" height="1.4" fill="#aaa"/>
<path d="M628,181 L646,171" stroke="#66686b" stroke-width="3.6" fill="none"/><path d="M628,180.4 L646,170.4" stroke="#d4d5d7" stroke-width="1" fill="none"/>
<circle cx="629" cy="180.5" r="2.6" fill="#5e6063"/>
<ellipse cx="621.3" cy="184.6" rx="9" ry="4" fill="#c9cacc"/><ellipse cx="621.3" cy="181.8" rx="9" ry="4.4" fill="#f7f7f8"/>
<rect x="620" y="187.5" width="2.6" height="13" fill="#e8e9ea" stroke="#aaa" stroke-width="0.3"/>
<polygon points="651.7,169.0 660.0,171.5 663.0,185.5 655.0,183.5" fill="#9fa0a3"/>
<polygon points="654.2,173.3 659.3,174.6 661.0,181.6 656.0,180.2" fill="#3a7fd0"/>
<polygon points="650.5,185.0 658.0,187.0 654.0,196.0 650.5,194.0" fill="#8d8e91"/>
<rect x="650.5" y="194" width="4.5" height="13" fill="#4a4b4e"/><rect x="651.5" y="207" width="2.4" height="14" fill="#6b6c6f"/>
<circle cx="600" cy="238.8" r="1.4" fill="#c22"/><circle cx="636.8" cy="243" r="1.4" fill="#c22"/><circle cx="651" cy="231" r="1.2" fill="#c22"/>
<circle cx="637" cy="209.5" r="0.8" fill="#c22"/>
<polygon points="717.7,95.3 775.8,93.6 776.5,178.4 720.4,172.3" fill="#dfe0e3"/>
<polygon points="775.8,93.6 786.1,96.3 784.0,166.1 776.5,178.4" fill="#a9aaad"/>
<polygon points="778.5,101.0 784.0,102.5 783.5,118.0 778.6,118.5" fill="#c5c6c9"/>
<polygon points="778.7,123.0 783.4,122.5 783.0,140.0 778.9,142.0" fill="#c5c6c9"/>
<polygon points="717.7,95.3 775.8,93.6 775.8,97.0 717.8,98.5" fill="#c2c3c6"/>
<polygon points="717.7,95.3 721.3,95.2 723.0,172.6 720.4,172.3" fill="#b5b6b9"/>
<polygon points="772.5,93.7 775.8,93.6 776.5,178.4 773.5,178.0" fill="#b9babd"/>
<polygon points="720.4,119.6 775.9,119.0 775.9,122.6 720.5,123.0" fill="#b0b1b4"/>
<polygon points="721.6,97.8 737.8,97.5 737.8,115.5 721.8,116.8" fill="#8e8f92"/>
<rect x="724" y="103" width="9.5" height="8.5" fill="#5d5f63"/>
<rect x="744.6" y="106.5" width="6" height="12.5" rx="1.5" fill="url(#gD)"/><rect x="754" y="105.5" width="6.4" height="13.5" rx="1.5" fill="url(#gD)"/><rect x="761" y="107" width="4" height="12" rx="1" fill="url(#gD)"/>
<rect x="738" y="114" width="35" height="3.6" fill="#b8babd"/>
<rect x="746" y="120.3" width="4" height="1.3" fill="#2a8a3a"/><rect x="763" y="120" width="5" height="1.5" fill="#2a8a3a"/>
<polygon points="722.8,123.0 773.2,122.7 773.4,142.8 722.9,141.0" fill="#bfc0c3"/>
<polygon points="735.0,133.0 773.0,131.0 773.3,140.0 727.0,139.5" fill="#f3f3f4"/>
<polygon points="735.0,126.0 773.0,125.0 773.0,130.5 737.0,131.5" fill="#aeb0b3"/>
<polygon points="720.4,141.0 776.3,143.2 776.5,178.4 720.4,172.3" fill="url(#gF)"/>
<circle cx="731.7" cy="174.5" r="1.8" fill="#5b2c2a"/><circle cx="766.5" cy="178.3" r="1.9" fill="#b5372e"/>
<rect x="721.6" y="172.5" width="1.5" height="4" fill="#666"/><rect x="775" y="178" width="1.5" height="5" fill="#666"/><rect x="782.6" y="163" width="1.2" height="3.5" fill="#666"/>
<rect x="868.4" y="101" width="52" height="22" fill="#f1f1f2"/>
<rect x="867.5" y="83.6" width="51" height="7.6" fill="#c4c5c8"/>
<rect x="867.5" y="91.2" width="51" height="10.5" fill="#a9aaad"/>
<path d="M869,94 H917 M869,96.6 H917 M869,99.2 H917" stroke="#c8c9cb" stroke-width="1" stroke-dasharray="2.2,1.6" fill="none"/>
<polygon points="918.4,83.6 927.2,86.4 927.2,107.8 918.4,101.7" fill="#8f9093"/>
<rect x="908.8" y="84.6" width="8.8" height="5.4" fill="#2f6fb5"/><rect x="910" y="85.6" width="6.4" height="3.4" fill="#9fd0e8"/>
<rect x="872.5" y="86.8" width="2.5" height="2.2" fill="#c0392b"/>
<circle cx="896" cy="88" r="0.9" fill="#c22"/><circle cx="899.5" cy="88" r="0.9" fill="#e0a800"/><circle cx="903" cy="88" r="0.9" fill="#1f55b0"/><rect x="886" y="87" width="5" height="1.8" fill="#556"/>
<rect x="868.4" y="101.7" width="7.9" height="20.5" fill="#b3b4b7"/>
<polygon points="916.7,101.7 918.4,101.7 927.2,107.8 927.2,121.9 916.7,121.9" fill="#a0a1a4"/>
<rect x="876.5" y="104" width="2" height="8" fill="#777"/><rect x="901" y="106" width="1.6" height="5.5" fill="#333"/>
<rect x="876.3" y="111.3" width="31.6" height="2.7" fill="#e8963a"/>
<polygon points="874.5,114.0 913.0,114.0 915.5,117.0 872.0,117.0" fill="#d0d1d3"/>
<polygon points="872.0,117.0 915.5,117.0 912.0,121.9 875.0,121.9" fill="#85868a"/>
<rect x="861.9" y="121.9" width="58.3" height="33.3" fill="url(#gF)"/>
<rect x="861.9" y="121.9" width="58.3" height="2" fill="#e6e7e9"/>
<rect x="867.5" y="126.3" width="48.3" height="25.4" fill="#dbdcde" stroke="#b2b3b6" stroke-width="0.5"/>
<polygon points="920.2,121.9 930.7,118.4 929.8,148.2 920.2,155.2" fill="url(#gS)"/>
<circle cx="865.8" cy="156.7" r="1.9" fill="#b5372e"/><circle cx="917.5" cy="160.5" r="1.9" fill="#b5372e"/><circle cx="928" cy="150.8" r="1.4" fill="#8d5a55"/>
<rect x="916.8" y="155" width="1.5" height="4" fill="#888"/>
<polygon points="879.4,288.6 890.8,279.5 930.6,280.6 913.5,294.3" fill="#e0e1e3"/>
<polygon points="879.4,288.6 913.5,294.3 913.5,319.4 879.4,318.2" fill="url(#gF)"/>
<polygon points="913.5,294.3 930.6,280.6 928.3,305.7 913.5,319.4" fill="url(#gS)"/>
<circle cx="901" cy="304" r="1.4" fill="#d22"/>
<polygon points="894.2,259.0 923.8,259.0 923.8,286.3 894.2,282.0" fill="#d9dadc"/>
<polygon points="912.0,259.0 923.8,259.0 923.8,286.3 912.0,284.5" fill="#bcbdc0"/>
<polygon points="886.2,252.0 896.0,247.6 927.2,249.5 927.2,259.0 890.8,259.0" fill="#bfc0c3"/>
<polygon points="897.0,250.0 910.0,246.0 927.2,249.5 915.0,254.0" fill="#e4e5e7"/>
<rect x="889" y="251" width="7.5" height="5" fill="#9c9da0"/><rect x="909" y="254.5" width="8" height="4.5" fill="#8b8c8f"/>
<path d="M884.5,258.5 L903,268 M910.5,263.5 L896.5,275" stroke="#6f7174" stroke-width="1.8" fill="none"/>
<rect x="895.5" y="262" width="3.4" height="18" fill="#8a8c8f"/><rect x="896.6" y="278" width="1.4" height="10" fill="#7a7c7f"/>
<polygon points="884.6,231.8 902.8,231.8 897.0,247.6 891.8,247.6" fill="url(#gD)"/>
<ellipse cx="893.7" cy="230.5" rx="9.7" ry="2.6" fill="#34363a"/><ellipse cx="893.7" cy="230" rx="9.7" ry="2.3" fill="none" stroke="#c9cacc" stroke-width="0.7"/>
<rect x="891.8" y="247.6" width="5.2" height="5" fill="#9b9da0"/>
<polygon points="906.0,234.0 925.6,234.0 918.8,252.2 912.8,252.2" fill="url(#gD)"/>
<ellipse cx="915.8" cy="232.8" rx="10.2" ry="2.7" fill="#34363a"/><ellipse cx="915.8" cy="232.3" rx="10.2" ry="2.4" fill="none" stroke="#c9cacc" stroke-width="0.7"/>
<rect x="912.8" y="252.2" width="6" height="4" fill="#9b9da0"/>
<rect x="921.5" y="267" width="12.5" height="13.8" fill="#a8a9ac"/><rect x="923.6" y="268.6" width="8.6" height="6.4" fill="#2e8a8a"/><rect x="924.6" y="269.5" width="6.6" height="4.6" fill="#d7ecdf"/>
<circle cx="925" cy="277.8" r="0.8" fill="#c22"/><circle cx="928" cy="277.8" r="0.8" fill="#2a8a3a"/><circle cx="931" cy="277.8" r="0.8" fill="#333"/>
<circle cx="882.8" cy="319.5" r="1.3" fill="#c22"/><circle cx="911.3" cy="323" r="1.3" fill="#c22"/><circle cx="913.8" cy="328" r="1.5" fill="#e8782a"/>
<path d="M922,302 Q925,306 923,318" stroke="#777" stroke-width="0.8" fill="none"/>
</g>
</g>
<g><path d="M399.50,154.50 Q393.75,148.28 391.51,142.90 A9.70,9.70 0 1 1 407.49,142.90 Q405.25,148.28 399.50,154.50 Z" fill="#1b86c4" opacity="0.4" transform="translate(1.4,1.2)" filter="url(#blur1)"/><path d="M399.50,154.50 Q393.75,148.28 391.51,142.90 A9.70,9.70 0 1 1 407.49,142.90 Q405.25,148.28 399.50,154.50 Z" fill="#ffffff"/><path d="M399.50,154.50 Q393.75,148.28 391.51,142.90 A9.70,9.70 0 1 1 407.49,142.90 Q405.25,148.28 399.50,154.50 Z" fill="url(#gPin)" opacity="0.55"/><circle cx="399.5" cy="136.2" r="4.0" fill="#2593d1"/><circle cx="400.3" cy="135.2" r="2.1" fill="#3fb0e8" opacity="0.8"/></g><g><path d="M527.20,97.90 Q521.35,91.21 519.05,85.26 A9.70,9.70 0 1 1 535.35,85.26 Q533.05,91.21 527.20,97.90 Z" fill="#1b86c4" opacity="0.4" transform="translate(1.4,1.2)" filter="url(#blur1)"/><path d="M527.20,97.90 Q521.35,91.21 519.05,85.26 A9.70,9.70 0 1 1 535.35,85.26 Q533.05,91.21 527.20,97.90 Z" fill="#ffffff"/><path d="M527.20,97.90 Q521.35,91.21 519.05,85.26 A9.70,9.70 0 1 1 535.35,85.26 Q533.05,91.21 527.20,97.90 Z" fill="url(#gPin)" opacity="0.55"/><circle cx="527.2" cy="78.8" r="4.0" fill="#2593d1"/><circle cx="528.0" cy="77.8" r="2.1" fill="#3fb0e8" opacity="0.8"/></g><g><path d="M480.00,291.50 Q474.51,286.26 472.43,282.07 A9.70,9.70 0 1 1 487.57,282.07 Q485.49,286.26 480.00,291.50 Z" fill="#1b86c4" opacity="0.4" transform="translate(1.4,1.2)" filter="url(#blur1)"/><path d="M480.00,291.50 Q474.51,286.26 472.43,282.07 A9.70,9.70 0 1 1 487.57,282.07 Q485.49,286.26 480.00,291.50 Z" fill="#ffffff"/><path d="M480.00,291.50 Q474.51,286.26 472.43,282.07 A9.70,9.70 0 1 1 487.57,282.07 Q485.49,286.26 480.00,291.50 Z" fill="url(#gPin)" opacity="0.55"/><circle cx="480.0" cy="274.8" r="4.0" fill="#2593d1"/><circle cx="480.8" cy="273.8" r="2.1" fill="#3fb0e8" opacity="0.8"/></g><g><path d="M699.00,149.00 Q693.33,143.14 691.15,138.20 A9.70,9.70 0 1 1 706.85,138.20 Q704.67,143.14 699.00,149.00 Z" fill="#1b86c4" opacity="0.4" transform="translate(1.4,1.2)" filter="url(#blur1)"/><path d="M699.00,149.00 Q693.33,143.14 691.15,138.20 A9.70,9.70 0 1 1 706.85,138.20 Q704.67,143.14 699.00,149.00 Z" fill="#ffffff"/><path d="M699.00,149.00 Q693.33,143.14 691.15,138.20 A9.70,9.70 0 1 1 706.85,138.20 Q704.67,143.14 699.00,149.00 Z" fill="url(#gPin)" opacity="0.55"/><circle cx="699.0" cy="131.3" r="4.0" fill="#2593d1"/><circle cx="699.8" cy="130.3" r="2.1" fill="#3fb0e8" opacity="0.8"/></g><g><path d="M673.70,246.30 Q668.07,240.56 665.90,235.77 A9.70,9.70 0 1 1 681.50,235.77 Q679.33,240.56 673.70,246.30 Z" fill="#1b86c4" opacity="0.4" transform="translate(1.4,1.2)" filter="url(#blur1)"/><path d="M673.70,246.30 Q668.07,240.56 665.90,235.77 A9.70,9.70 0 1 1 681.50,235.77 Q679.33,240.56 673.70,246.30 Z" fill="#ffffff"/><path d="M673.70,246.30 Q668.07,240.56 665.90,235.77 A9.70,9.70 0 1 1 681.50,235.77 Q679.33,240.56 673.70,246.30 Z" fill="url(#gPin)" opacity="0.55"/><circle cx="673.7" cy="228.8" r="4.0" fill="#2593d1"/><circle cx="674.5" cy="227.8" r="2.1" fill="#3fb0e8" opacity="0.8"/></g><g><path d="M840.60,139.00 Q834.73,132.25 832.43,126.23 A9.70,9.70 0 1 1 848.77,126.23 Q846.47,132.25 840.60,139.00 Z" fill="#1b86c4" opacity="0.4" transform="translate(1.4,1.2)" filter="url(#blur1)"/><path d="M840.60,139.00 Q834.73,132.25 832.43,126.23 A9.70,9.70 0 1 1 848.77,126.23 Q846.47,132.25 840.60,139.00 Z" fill="#ffffff"/><path d="M840.60,139.00 Q834.73,132.25 832.43,126.23 A9.70,9.70 0 1 1 848.77,126.23 Q846.47,132.25 840.60,139.00 Z" fill="url(#gPin)" opacity="0.55"/><circle cx="840.6" cy="119.8" r="4.0" fill="#2593d1"/><circle cx="841.4" cy="118.8" r="2.1" fill="#3fb0e8" opacity="0.8"/></g><g><path d="M840.60,240.30 Q834.77,234.53 832.50,229.69 A10.20,10.20 0 1 1 848.70,229.69 Q846.43,234.53 840.60,240.30 Z" fill="#6f8796" opacity="0.35" transform="translate(2,1.5)" filter="url(#blur1)"/><path d="M840.60,240.30 Q834.77,234.53 832.50,229.69 A10.20,10.20 0 1 1 848.70,229.69 Q846.43,234.53 840.60,240.30 Z" fill="#f4f9fc" stroke="#b9dcf0" stroke-width="1.3"/><path d="M840.60,240.30 Q834.77,234.53 832.50,229.69 A10.20,10.20 0 1 1 848.70,229.69 Q846.43,234.53 840.60,240.30 Z" fill="url(#gPin)" opacity="0.7"/><circle cx="840.6" cy="222.5" r="3.9" fill="#a9c6d8"/><circle cx="841.2" cy="221.7" r="2.1" fill="#eef5f9" opacity="0.9"/></g><g><path d="M860.00,305.00 Q854.23,299.41 851.98,294.81 A10.20,10.20 0 1 1 868.02,294.81 Q865.77,299.41 860.00,305.00 Z" fill="#6f8796" opacity="0.35" transform="translate(2,1.5)" filter="url(#blur1)"/><path d="M860.00,305.00 Q854.23,299.41 851.98,294.81 A10.20,10.20 0 1 1 868.02,294.81 Q865.77,299.41 860.00,305.00 Z" fill="#f4f9fc" stroke="#b9dcf0" stroke-width="1.3"/><path d="M860.00,305.00 Q854.23,299.41 851.98,294.81 A10.20,10.20 0 1 1 868.02,294.81 Q865.77,299.41 860.00,305.00 Z" fill="url(#gPin)" opacity="0.7"/><circle cx="860.0" cy="287.5" r="3.9" fill="#a9c6d8"/><circle cx="860.6" cy="286.7" r="2.1" fill="#eef5f9" opacity="0.9"/></g>
<g><circle cx="603.4" cy="408" r="58" fill="url(#gHubFade)"/><g filter="url(#blur2)" opacity="0.9"><path d="M558.99,360.95 A68.80,68.80 0 0 1 647.81,360.95 L641.93,367.90 A59.70,59.70 0 0 0 564.87,367.90 Z" fill="#9ddcf8" stroke="#9ddcf8" stroke-width="5" stroke-linejoin="round"/><path d="M575.28,377.57 A43.30,43.30 0 0 1 631.52,377.57 L625.94,384.11 A34.70,34.70 0 0 0 580.86,384.11 Z" fill="#9ddcf8" stroke="#9ddcf8" stroke-width="5" stroke-linejoin="round"/><circle cx="603.4" cy="396.6" r="12" fill="#9ddcf8"/></g><path d="M558.99,360.95 A68.80,68.80 0 0 1 647.81,360.95 L641.93,367.90 A59.70,59.70 0 0 0 564.87,367.90 Z" fill="#d4effc" stroke="#d4effc" stroke-width="4.4" stroke-linejoin="round"/><path d="M575.28,377.57 A43.30,43.30 0 0 1 631.52,377.57 L625.94,384.11 A34.70,34.70 0 0 0 580.86,384.11 Z" fill="#d4effc" stroke="#d4effc" stroke-width="4.4" stroke-linejoin="round"/><circle cx="603.4" cy="396.6" r="10.2" fill="#d4effc"/><path d="M558.99,360.95 A68.80,68.80 0 0 1 647.81,360.95 L641.93,367.90 A59.70,59.70 0 0 0 564.87,367.90 Z" fill="#26aae1" stroke="#26aae1" stroke-width="2.6" stroke-linejoin="round"/><path d="M575.28,377.57 A43.30,43.30 0 0 1 631.52,377.57 L625.94,384.11 A34.70,34.70 0 0 0 580.86,384.11 Z" fill="#26aae1" stroke="#26aae1" stroke-width="2.6" stroke-linejoin="round"/><circle cx="603.4" cy="396.6" r="9.3" fill="#26aae1"/></g>
<rect x="357.0" y="375.6" width="104.6" height="64.0" rx="7.5" fill="#7fa9c4" opacity="0.9" filter="url(#blur12)" transform="translate(1,1.2)"/><rect x="357.0" y="375.6" width="104.6" height="64.0" rx="7.5" fill="#ffffff" stroke="#cfe3ef" stroke-width="0.7"/>
<rect x="250.4" y="455.0" width="184.6" height="64.6" rx="7.5" fill="#7fa9c4" opacity="0.9" filter="url(#blur12)" transform="translate(1,1.2)"/><rect x="250.4" y="455.0" width="184.6" height="64.6" rx="7.5" fill="#ffffff" stroke="#cfe3ef" stroke-width="0.7"/>
<rect x="740.6" y="375.6" width="118.4" height="64.0" rx="7.5" fill="#7fa9c4" opacity="0.9" filter="url(#blur12)" transform="translate(1,1.2)"/><rect x="740.6" y="375.6" width="118.4" height="64.0" rx="7.5" fill="#ffffff" stroke="#cfe3ef" stroke-width="0.7"/>
<rect x="740.6" y="455.0" width="230.4" height="65.0" rx="7.5" fill="#7fa9c4" opacity="0.9" filter="url(#blur12)" transform="translate(1,1.2)"/><rect x="740.6" y="455.0" width="230.4" height="65.0" rx="7.5" fill="#ffffff" stroke="#cfe3ef" stroke-width="0.7"/>
<g font-family="Liberation Sans, sans-serif" font-size="12.6" fill="#333333">
<text x="361.6" y="392.0" font-weight="700" fill="#3a3a3a" textLength="92.6" lengthAdjust="spacingAndGlyphs">All our products</text>
<text x="361.6" y="405.4" font-weight="700" fill="#3a3a3a" textLength="82.0" lengthAdjust="spacingAndGlyphs">have WIFI PLC</text>
<text x="361.6" y="418.6" font-weight="700" fill="#3a3a3a" textLength="95.4" lengthAdjust="spacingAndGlyphs">electronic touch</text>
<text x="361.6" y="432.0" font-weight="700" fill="#3a3a3a" textLength="41.0" lengthAdjust="spacingAndGlyphs">screen.</text>
<text x="259.0" y="469.4" font-weight="400" stroke="#333333" stroke-width="0.3" textLength="121.0" lengthAdjust="spacingAndGlyphs">Remote WIFI control</text>
<text x="259.0" y="479.4" font-weight="400" stroke="#333333" stroke-width="0.3" textLength="69.0" lengthAdjust="spacingAndGlyphs">PLC system.</text>
<text x="259.0" y="501.0" font-weight="400" stroke="#333333" stroke-width="0.3" textLength="150.6" lengthAdjust="spacingAndGlyphs">One-on-one debugging of</text>
<text x="259.0" y="511.4" font-weight="400" stroke="#333333" stroke-width="0.3" textLength="119.0" lengthAdjust="spacingAndGlyphs">the machine for you.</text>
<text x="753.4" y="393.4" font-weight="700" fill="#3a3a3a" textLength="95.2" lengthAdjust="spacingAndGlyphs">Are you worried</text>
<text x="753.4" y="405.0" font-weight="700" fill="#3a3a3a" textLength="94.0" lengthAdjust="spacingAndGlyphs">about not being</text>
<text x="753.4" y="416.0" font-weight="700" fill="#3a3a3a" textLength="91.2" lengthAdjust="spacingAndGlyphs">able to operate</text>
<text x="753.4" y="427.6" font-weight="700" fill="#3a3a3a" textLength="77.2" lengthAdjust="spacingAndGlyphs">the machine?</text>
<text x="753.4" y="473.0" font-weight="400" stroke="#333333" stroke-width="0.3" textLength="153.6" lengthAdjust="spacingAndGlyphs">4G/5G WIFI stable control</text>
<text x="753.4" y="496.0" font-weight="400" stroke="#333333" stroke-width="0.3" textLength="89.2" lengthAdjust="spacingAndGlyphs">Install and use.</text>
<text x="753.4" y="507.4" font-weight="400" stroke="#333333" stroke-width="0.3" textLength="175.6" lengthAdjust="spacingAndGlyphs">Reducing debugging troubles.</text>
</g>
<g stroke="#1fa0e4" stroke-width="2.5" fill="none" stroke-linejoin="round"><path d="M460,424 H508"/><path d="M430,497.6 L449,516.6 H508"/><path d="M693,424 H745"/><path d="M693,505.4 H745"/></g><g fill="#1fa0e4"><circle cx="460" cy="424" r="4.1"/><circle cx="430" cy="497.6" r="4.1"/><circle cx="745" cy="424" r="4.1"/><circle cx="745" cy="505.4" r="4.1"/></g>
<g clip-path="url(#cpT)">
<rect x="250" y="375" width="107" height="66" fill="#f1f2f3"/>
<polygon points="250.0,397.5 291.0,378.0 291.0,441.0 250.0,441.0" fill="url(#gTouchCab)"/>
<polygon points="250.0,394.5 290.0,375.5 292.0,378.0 250.0,398.5" fill="#d9dadc"/>
<polygon points="276.0,418.0 330.0,441.0 276.0,441.0" fill="#b2b4b7"/>
<rect x="336" y="375" width="21" height="66" fill="#9ea0a3"/>
<polygon points="343.0,375.0 357.0,375.0 357.0,386.0 344.0,384.0" fill="#d4d5d7"/>
<rect x="346" y="386" width="5" height="55" fill="#b9bbbe"/>
<polygon points="300.0,375.0 345.0,375.0 345.0,387.0 334.4,385.0 303.0,380.0" fill="#55575b"/>
<polygon points="334.4,384.9 344.3,386.3 344.3,417.0 324.4,441.0 317.3,437.4" fill="url(#gTouchSide)"/>
<polygon points="344.3,417.0 357.0,405.0 357.0,441.0 324.4,441.0" fill="#a4a6a9"/>
<polygon points="289.0,377.8 334.4,384.9 317.3,437.4 276.9,419.6" fill="#e6e7e9"/>
<polygon points="276.9,419.6 317.3,437.4 316.5,441.0 276.5,424.0" fill="#c3c4c7"/>
<polygon points="290.4,380.6 328.7,389.9 318.8,412.6 285.4,403.3" fill="#23262a"/>
<polygon points="292.8,383.7 324.6,391.5 316.6,408.3 289.2,400.5" fill="#eceae6"/>
<polygon points="297.5,386.2 314.5,390.4 313.8,393.0 296.8,388.8" fill="#c7a98a"/>
<rect x="297" y="394" width="5.5" height="2" fill="#f0a020" transform="rotate(14 297 394)"/><rect x="306" y="396.4" width="5.5" height="2" fill="#f0a020" transform="rotate(14 306 396.4)"/>
<rect x="291.5" y="397.5" width="3" height="3" fill="#8a8a70" transform="rotate(14 291.5 397.5)"/>
<rect x="285.4" y="409.4" width="5.8" height="5.8" fill="#2b78d6" transform="rotate(14 288.3 412.3)"/>
<circle cx="285.4" cy="416.7" r="3.1" fill="#26282c"/>
<circle cx="284.9" cy="416.1" r="1.4" fill="#ffffff" opacity="0.25"/>
<rect x="296.0" y="415.0" width="5.8" height="5.8" fill="#2b78d6" transform="rotate(14 298.9 417.9)"/>
<circle cx="296.0" cy="422.0" r="3.1" fill="#168a5c"/>
<circle cx="295.5" cy="421.4" r="1.4" fill="#ffffff" opacity="0.25"/>
<rect x="307.3" y="420.0" width="5.8" height="5.8" fill="#2b78d6" transform="rotate(14 310.2 422.9)"/>
<circle cx="307.4" cy="427.6" r="3.1" fill="#26282c"/>
<circle cx="306.9" cy="427.0" r="1.4" fill="#ffffff" opacity="0.25"/>
<rect x="280" y="415.4" width="7.5" height="2.2" fill="#3a3c40" transform="rotate(-25 284 416.5)"/>
<ellipse cx="255.8" cy="413.3" rx="4.3" ry="4" fill="#e4c51c"/><ellipse cx="254.3" cy="412" rx="3.2" ry="3" fill="#c3232b"/>
</g>
<rect x="250.4" y="375.6" width="105.6" height="64" rx="7" fill="none" stroke="#8fd2f3" stroke-width="1.2"/>
<g clip-path="url(#cpM)">
<rect x="864" y="375" width="108" height="66" fill="url(#gManBg)"/>
<path d="M864,433.5 Q874,431 884,433 L884,441 L864,441Z" fill="#d6cec1"/><path d="M950,432 Q961,429 972,431.5 L972,441 L950,441Z" fill="#d6cec1"/>
<path d="M879.5,441 Q882,424 888,411 Q893,404.5 900,405.5 L907,412 L915,420 L924,411 L934,417 Q943,414 948,424 Q951,432 951.5,441Z" fill="#e1e8f0"/>
<path d="M886,428 Q888,412 896,405.5 L906.5,412 Q899,420 897,434Z" fill="#d5dee9"/>
<path d="M927,417 L938,419 Q945,425 946,436 L934,436 Q932,426 927,417Z" fill="#d5dee9"/>
<path d="M913.5,415 L914.5,430" stroke="#5d4a45" stroke-width="1.2" fill="none"/>
<path d="M907,412 L914,421 L910,426 M924,411 L915.5,421 L921,426" stroke="#c2cbd7" stroke-width="0.9" fill="none"/>
<path d="M909,407 L921,407 L919,416 L914.5,420 L910,415Z" fill="#cf9d84"/>
<path d="M906.3,392 Q906,384.5 914.5,384 Q923.5,384.3 923.8,393 Q924,404 920.5,409 Q916,413.5 911.5,410.5 Q906.5,405 906.3,392Z" fill="#d9a88f"/>
<path d="M903.8,390.5 Q903.5,380 914.5,379.2 Q926,379.5 926.7,389.5 Q922,384.5 915,385.2 Q908,385.6 903.8,390.5Z" fill="#a88c5e"/>
<path d="M908.5,394.8 h4.6 M916.8,394.8 h4.6" stroke="#7a5445" stroke-width="0.9"/>
<ellipse cx="915.3" cy="405.4" rx="3.3" ry="2.1" fill="#4f2724"/>
<path d="M913.6,397 L913,401.5" stroke="#c08f78" stroke-width="0.9"/>
<path d="M896.5,409 Q895.5,398 899,392.5 Q901.5,388.5 905.5,388.8 L907,394 Q905,400 905.5,407 L904,412.5Z" fill="#dbb096"/>
<path d="M900.5,392 L904.5,399 M898.5,396 L902.5,402" stroke="#c2917a" stroke-width="0.7" fill="none"/>
<path d="M923.5,392 Q926,386.5 930.5,387.5 Q936,392 937,403 L937.5,411 L929,413 Q925.5,405 923.5,392Z" fill="#dbb096"/>
<path d="M927.5,390 L931,399 M930.5,389.5 L934,398" stroke="#c2917a" stroke-width="0.7" fill="none"/>
<rect x="928.6" y="409.8" width="9.6" height="7" rx="2.5" fill="#7a5a40" transform="rotate(-12 933.4 413.3)"/><circle cx="933.6" cy="413.4" r="2.7" fill="#ece6d8" stroke="#b89b5e" stroke-width="0.7"/>
<path d="M930.5,392 Q936,386.5 944.8,382.9" stroke="#1d1d1f" stroke-width="1.6" fill="none" stroke-linecap="round"/>
</g>
<rect x="865.6" y="375.7" width="105" height="64.1" rx="7" fill="none" stroke="#8fd2f3" stroke-width="1.2"/>
<rect x="507.2" y="406" width="187.2" height="113.8" fill="#7fcff5" filter="url(#blur1)"/>
<rect x="508.4" y="407" width="184.8" height="111.6" fill="#a3dcf8"/>
<g clip-path="url(#cpC)">
<rect x="509" y="408" width="184" height="110" fill="url(#gSky)"/>
<ellipse cx="531" cy="428" rx="13" ry="9" fill="#fff" opacity="0.8"/><ellipse cx="519" cy="447" rx="10" ry="8" fill="#fff" opacity="0.6"/><ellipse cx="540" cy="416" rx="9" ry="5" fill="#fff" opacity="0.6"/>
<polygon points="525.7,437.6 547.5,424.2 547.5,408.0 618.0,408.0 618.0,500.0 525.7,470.0" fill="#7f8183"/>
<polygon points="525.7,437.6 533.0,433.0 533.0,470.0 525.7,470.0" fill="#66686b"/>
<polygon points="534.0,440.0 546.5,432.5 546.5,439.5 534.0,445.5" fill="#c3d0d9"/>
<polygon points="534.0,449.5 546.5,445.0 546.5,451.5 534.0,454.5" fill="#b7c5cf"/>
<path d="M537,436 V456 M540,434 V456 M543,433 V456" stroke="#7f8183" stroke-width="0.9"/>
<rect x="547.5" y="408" width="3" height="52" fill="#6c6e71"/><rect x="554.3" y="408" width="4" height="52" fill="#5b5f64"/>
<polygon points="560.0,419.3 568.1,413.6 568.1,423.6 560.0,428.7" fill="#cbd9e2"/>
<polygon points="560.0,434.8 568.1,429.9 568.1,441.1 560.0,444.8" fill="#c2d1db"/>
<polygon points="560.0,450.2 568.1,447.5 568.1,457.0 560.0,457.9" fill="#59626b"/>
<path d="M562.7,408 V458" stroke="#6e7478" stroke-width="0.6"/>
<path d="M565.4,408 V458" stroke="#6e7478" stroke-width="0.6"/>
<polygon points="570.7,411.8 576.5,407.8 576.5,418.2 570.7,421.9" fill="#cbd9e2"/>
<polygon points="570.7,428.4 576.5,424.9 576.5,437.2 570.7,439.9" fill="#c2d1db"/>
<polygon points="570.7,446.6 576.5,444.6 576.5,456.0 570.7,456.7" fill="#59626b"/>
<path d="M572.6,408 V458" stroke="#6e7478" stroke-width="0.6"/>
<path d="M574.6,408 V458" stroke="#6e7478" stroke-width="0.6"/>
<polygon points="579.1,405.9 586.6,400.7 586.6,411.7 579.1,416.5" fill="#cbd9e2"/>
<polygon points="579.1,423.3 586.6,418.8 586.6,432.6 579.1,436.0" fill="#c2d1db"/>
<polygon points="579.1,443.7 586.6,441.1 586.6,454.9 579.1,455.7" fill="#59626b"/>
<path d="M581.6,408 V458" stroke="#6e7478" stroke-width="0.6"/>
<path d="M584.1,408 V458" stroke="#6e7478" stroke-width="0.6"/>
<polygon points="589.2,398.9 599.4,391.7 599.4,403.5 589.2,410.1" fill="#cbd9e2"/>
<polygon points="589.2,417.3 599.4,411.2 599.4,426.8 589.2,431.4" fill="#c2d1db"/>
<polygon points="589.2,440.3 599.4,436.8 599.4,453.4 589.2,454.6" fill="#59626b"/>
<path d="M592.6,408 V458" stroke="#6e7478" stroke-width="0.6"/>
<path d="M596.0,408 V458" stroke="#6e7478" stroke-width="0.6"/>
<polygon points="602.0,389.9 616.7,379.6 616.7,392.5 602.0,401.9" fill="#cbd9e2"/>
<polygon points="602.0,409.6 616.7,400.8 616.7,418.8 602.0,425.6" fill="#c2d1db"/>
<polygon points="602.0,435.9 616.7,430.9 616.7,451.4 602.0,453.1" fill="#59626b"/>
<path d="M606.9,408 V458" stroke="#6e7478" stroke-width="0.6"/>
<path d="M611.8,408 V458" stroke="#6e7478" stroke-width="0.6"/>
<rect x="549.5" y="428" width="4.6" height="7" fill="#c3d0d9"/><rect x="549.5" y="441" width="4.6" height="7" fill="#bccad4"/>
<rect x="617.5" y="408" width="75" height="95" fill="#8f8f8c"/>
<rect x="619" y="408" width="6.8" height="12.5" fill="#6b6d6f"/><rect x="619" y="430" width="6.8" height="20.5" fill="#7b7d7f"/>
<rect x="643.1" y="408" width="9" height="54" fill="#4b525a"/><path d="M647.6,408 V462 M643.1,421 H652.1 M643.1,440 H652.1" stroke="#7c858d" stroke-width="0.7"/>
<rect x="652.1" y="408" width="10" height="95" fill="#7e7f7e"/>
<rect x="662.1" y="408" width="5.1" height="29.6" fill="#474d54"/><rect x="663" y="448" width="4.5" height="50" fill="#4e545a"/>
<rect x="676.1" y="408" width="16" height="95" fill="#5f6062"/>
<path d="M650,447 L668,437 L678,442" stroke="#a9aaa8" stroke-width="1" fill="none"/>
<text x="681.2" y="442.6" font-family="Liberation Sans, sans-serif" font-weight="700" font-size="9.5" fill="#a01c2a">108</text>
<text x="613.5" y="463.8" font-family="Liberation Sans, Noto Sans CJK SC, sans-serif" font-weight="700" font-size="9.5" fill="#2f7fd0" transform="rotate(-10.2 613.5 463.8)" textLength="32" lengthAdjust="spacingAndGlyphs">巽联智能</text>
<rect x="609" y="467" width="44" height="31" fill="#a3a39d"/>
<rect x="609.8" y="469.8" width="7" height="17.4" fill="#5e6469"/><rect x="618.5" y="469.8" width="7.5" height="17.4" fill="#5e6469"/>
<rect x="631.2" y="481.4" width="2.9" height="13.4" fill="#55575a"/>
<rect x="644.5" y="466.4" width="8" height="30" fill="#8d9494"/><rect x="640" y="492" width="3" height="4" fill="#c2563a"/>
<polygon points="609.8,466.2 654.3,462.7 654.3,465.0 609.8,468.8" fill="#d4d2c9"/>
<rect x="652.6" y="464.6" width="3.4" height="32.5" fill="#d6d5cf"/><rect x="616.8" y="469" width="1.6" height="25" fill="#cfcec8"/><rect x="626" y="468.5" width="1.7" height="26" fill="#cfcec8"/>
<rect x="664.2" y="478.5" width="5" height="16" fill="#4e545a"/>
<polygon points="600.0,496.5 693.0,495.0 693.0,518.0 600.0,518.0" fill="#c6c5be"/>
<polygon points="612.0,499.0 666.0,497.5 664.0,505.0 640.0,505.0 613.0,500.5" fill="#8aa04e"/>
<path d="M639.8,518 Q641,508 647,503 Q652,498 660,499.5 Q668,496.5 676,499 Q686,497 693,499.5 V518Z" fill="#2f5223"/>
<path d="M647,510 q3,-5 8,-3 q4,-6 10,-2 q6,-5 11,0 q5,-3 9,1 M652,516 q5,-4 10,-1 q6,-4 12,0" stroke="#5e8c36" stroke-width="1.6" fill="none"/>
<rect x="679.8" y="494" width="13" height="4" fill="#9b2f35"/>
</g>
<g clip-path="url(#cpI)">
<rect x="510" y="458" width="99" height="59" fill="#a9aaa8"/>
<rect x="510" y="458" width="18" height="28" fill="#5d5f63"/>
<rect x="549" y="458" width="30" height="14" fill="#c4c5c2"/><rect x="540" y="458" width="12" height="8" fill="#8d8f92"/>
<rect x="549.7" y="466.3" width="10.5" height="8.6" fill="#2e3238"/>
<rect x="518" y="472" width="10" height="12" rx="2" fill="#d9d6cc"/>
<ellipse cx="556" cy="482" rx="8" ry="6.5" fill="#e3dfd4"/><rect x="559" y="475" width="5" height="2" fill="#7d4fb0"/><rect x="544.5" y="489" width="11" height="2" fill="#2f9a5a"/>
<polygon points="560.0,492.0 609.0,490.0 609.0,517.0 560.0,517.0" fill="#6a5a4e"/>
<rect x="602" y="482" width="7" height="13" fill="#d5d6d4"/><rect x="603" y="466" width="6" height="16" fill="#3a3c40"/>
<polygon points="566.3,463.2 603.3,463.2 603.3,491.6 566.3,491.6" fill="#2f3237"/>
<polygon points="568.2,466.0 601.4,466.0 601.4,489.7 568.2,489.7" fill="#4f525a"/>
<rect x="568.2" y="464.6" width="33.2" height="3" fill="#968d94"/>
<path d="M571,472 H596 M571,476 H599 M573,480 H597 M571,484 H590 M585,469 V488 M593,470 V487" stroke="#8b8e97" stroke-width="0.6" fill="none"/>
<rect x="580" y="491" width="10" height="5" fill="#25272b"/>
<polygon points="560.0,493.0 583.0,492.0 586.0,502.0 564.0,503.5" fill="#2b2d31"/>
<path d="M514,517 Q512,497 521,489 Q528,482 536,481 L546,484 Q556,490 562,498 L569,503 L568,517Z" fill="#dde7f1"/>
<path d="M546,484 Q552,497 566,506 M530,487 Q526,500 528,517" stroke="#b5c3d3" stroke-width="0.8" fill="none"/>
<polygon points="565.0,503.0 592.0,501.0 592.0,506.0 566.0,515.5" fill="#c9966f"/>
<polygon points="549.7,490.5 563.0,490.0 563.5,493.5 551.0,494.5" fill="#c99a78"/>
<path d="M536.5,466 Q548,462 549.5,474 L550.5,480 Q549,488 541.5,487.5 L535.5,486 L534,478Z" fill="#bd8a68"/>
<ellipse cx="536" cy="469" rx="11" ry="10.4" fill="#1e1e20"/>
<path d="M538,476 Q541,466 548,466.5 Q546,462 540,461 L532,470Z" fill="#1e1e20"/>
<ellipse cx="539.3" cy="476.5" rx="2.4" ry="3.6" fill="#b07c5c"/>
<rect x="535.5" y="481" width="7" height="6" fill="#b98565"/>
<path d="M511,501 Q518,498 523,504 L527,517 L511,517Z" fill="#222428"/>
<rect x="568.8" y="502" width="9.2" height="9.2" fill="#2b8fe0"/>
<path d="M570.4,504.2 h6 M570.4,506.6 h6 M570.4,509 h6 M573.4,504.2 v5" stroke="#dff0fb" stroke-width="0.7" fill="none"/>
<text x="578.8" y="507.4" font-family="Liberation Sans, Noto Sans CJK SC, sans-serif" font-weight="700" font-size="5.6" fill="#2b8fe0" textLength="21.5" lengthAdjust="spacingAndGlyphs">巽联智能</text>
<text x="578.8" y="511" font-family="Liberation Sans, sans-serif" font-weight="700" font-size="3.2" fill="#2b8fe0" textLength="21.5" lengthAdjust="spacingAndGlyphs">Sunlianzn</text>
</g>
<rect x="511" y="458.9" width="96.6" height="56.8" rx="6" fill="none" stroke="#2ea3e0" stroke-width="1.5"/>
<rect x="427" y="5.8" width="370.5" height="33.4" rx="7" fill="#213a43"/><g font-family="Liberation Sans, sans-serif" font-weight="700" font-size="23.4" fill="#ffffff"><text x="435.8" y="29.2" textLength="48.4" lengthAdjust="spacingAndGlyphs">WIFI</text><text x="493.3" y="29.2" textLength="84.2" lengthAdjust="spacingAndGlyphs">Remote</text><text x="586.7" y="29.2" textLength="115.0" lengthAdjust="spacingAndGlyphs">Debugging</text><text x="710.8" y="29.2" textLength="77.2" lengthAdjust="spacingAndGlyphs">Service</text></g>
<g fill="none" stroke="#1a9fe8"><rect x="252.8" y="10.1" width="22.8" height="25.9" stroke-width="1.8"/><g stroke-width="1.7"><path d="M255.6,14 H263 V17.2 H255.6 Z M255.6,17.2 V20.6 H263.4"/><path d="M265.4,14 H272.8 V17.2 H265.4 Z M265.4,17.2 V20.6 H273.2"/><path d="M255.2,23.1 H273.2 M255.2,25.4 H273.2"/><path d="M264.2,25.4 V33.6"/><path d="M255.6,28 H261.8 V33.4 H255.6 V30.6 H259.2"/><path d="M272.8,28 H266.6 V33.4 H272.8 V30.6 H269.2"/></g></g><text x="279.5" y="24.2" font-family="Liberation Sans, Noto Sans CJK SC, sans-serif" font-weight="700" font-size="17" stroke="#1a9fe8" stroke-width="0.35" fill="#1a9fe8" textLength="67.5" lengthAdjust="spacingAndGlyphs">巽联智能</text><text x="348" y="15" font-family="Liberation Sans, sans-serif" font-size="7" fill="#1a9fe8">®</text><text x="279.5" y="37.1" font-family="Liberation Sans, sans-serif" font-weight="700" font-size="12.6" stroke="#1a9fe8" stroke-width="0.3" fill="#1a9fe8" textLength="67.2" lengthAdjust="spacingAndGlyphs">Sunlianzn</text>
</g>
</svg></body></html>
